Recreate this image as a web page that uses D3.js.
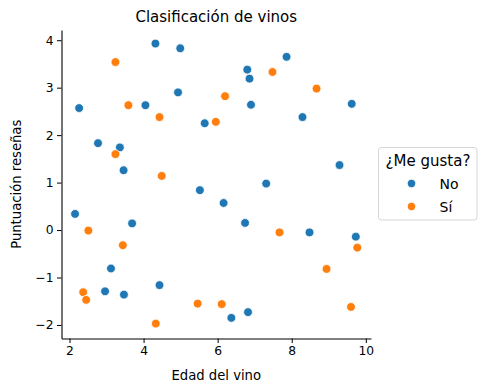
<!DOCTYPE html>
<html>
<head>
<meta charset="utf-8">
<script src="https://cdn.jsdelivr.net/npm/d3@7"></script>
<style>
  body { margin: 0; background: #fff; }
  svg { display: block; font-family: "DejaVu Sans", sans-serif; }
</style>
</head>
<body>
<svg id="chart" width="487" height="392"></svg>
<script>
const title = "Clasificación de vinos";
const xLabel = "Edad del vino";
const yLabel = "Puntuación reseñas";
const legendTitle = "¿Me gusta?";
const categories = ["No", "Sí"];
const colors = ["#1f77b4", "#ff7f0e"];
const xTicks = [2, 4, 6, 8, 10];
const yTicks = [-2, -1, 0, 1, 2, 3, 4];

// Serie "No"
const noX = [2.15, 2.26, 2.77, 3.36, 3.46, 4.32, 4.99, 4.93, 4.05, 5.65,
             7.86, 6.80, 6.86, 6.90, 8.29, 9.62, 9.29, 7.31,
             6.16, 6.74, 8.48, 9.73, 6.37, 6.82,
             5.52, 3.69, 3.12, 2.96, 3.47, 4.43];
const noY = [0.34, 2.57, 1.83, 1.74, 1.26, 3.93, 3.83, 2.90, 2.63, 2.25,
             3.65, 3.38, 3.19, 2.64, 2.38, 2.66, 1.37, 0.98,
             0.57, 0.15, -0.05, -0.14, -1.85, -1.73,
             0.84, 0.14, -0.81, -1.29, -1.36, -1.16];
// Serie "Sí"
const siX = [3.24, 3.59, 4.43, 3.24, 4.49, 5.95, 6.20, 7.48, 8.67,
             7.67, 9.77, 8.94, 6.11, 9.60,
             2.51, 3.44, 2.37, 2.45, 4.33, 5.46];
const siY = [3.54, 2.63, 2.38, 1.60, 1.14, 2.28, 2.82, 3.33, 2.98,
             -0.05, -0.37, -0.82, -1.56, -1.62,
             -0.01, -0.32, -1.31, -1.47, -1.97, -1.55];

const seriesX = [noX, siX];
const seriesY = [noY, siY];

const svg = d3.select("#chart");
const L = 61.5, R = 371, T = 30, B = 338.5;

const x = d3.scaleLinear().domain([1.784, 10.14]).range([L, R]);
const y = d3.scaleLinear().domain([-2.285, 4.215]).range([B, T]);

// Axes
const xAxis = svg.append("g")
  .attr("transform", `translate(0,${B})`)
  .call(d3.axisBottom(x).tickValues(xTicks).tickSize(4.5).tickPadding(3.5).tickSizeOuter(0));
const yAxis = svg.append("g")
  .attr("transform", `translate(${L},0)`)
  .call(d3.axisLeft(y).tickValues(yTicks).tickSize(4.5).tickPadding(3.5).tickSizeOuter(0)
        .tickFormat(d => d < 0 ? "\u2212" + Math.abs(d) : d));

[xAxis, yAxis].forEach(g => {
  g.selectAll(".domain").attr("stroke", "#000").attr("stroke-width", 1.1);
  g.selectAll(".tick line").attr("stroke", "#000").attr("stroke-width", 1);
  g.selectAll(".tick text").attr("fill", "#000")
    .style("font-family", "DejaVu Sans").style("font-size", "12.3px");
});

// Points
categories.forEach((c, i) => {
  const pts = seriesX[i].map((v, j) => [v, seriesY[i][j]]);
  svg.append("g").selectAll("circle").data(pts).join("circle")
    .attr("cx", d => x(d[0]))
    .attr("cy", d => y(d[1]))
    .attr("r", 4.4)
    .attr("fill", colors[i])
    .attr("stroke", "#fff")
    .attr("stroke-width", 0.8);
});

// Title
svg.append("text")
  .attr("x", (L + R) / 2).attr("y", 21.5)
  .attr("text-anchor", "middle")
  .style("font-size", "15px")
  .text(title);

// Axis labels
svg.append("text")
  .attr("x", (L + R) / 2).attr("y", 380)
  .attr("text-anchor", "middle")
  .style("font-size", "13.2px")
  .text(xLabel);

svg.append("text")
  .attr("transform", `translate(21,${(T + B) / 2}) rotate(-90)`)
  .attr("text-anchor", "middle")
  .style("font-size", "13.2px")
  .text(yLabel);

// Legend
const lg = svg.append("g").attr("transform", "translate(378.5,147.5)");
lg.append("rect")
  .attr("width", 98.5).attr("height", 72.5)
  .attr("rx", 3)
  .attr("fill", "#fff").attr("fill-opacity", 0.8)
  .attr("stroke", "#d6d6d6").attr("stroke-width", 1);
lg.append("text")
  .attr("x", 49.5).attr("y", 18.5)
  .attr("text-anchor", "middle")
  .style("font-size", "15px")
  .text(legendTitle);
categories.forEach((c, i) => {
  lg.append("circle")
    .attr("cx", 33).attr("cy", 36 + i * 23)
    .attr("r", 4.2)
    .attr("fill", colors[i])
    .attr("stroke", "#fff").attr("stroke-width", 0.8);
  lg.append("text")
    .attr("x", 61).attr("y", 41 + i * 23)
    .style("font-size", "14px")
    .text(c);
});
</script>
</body>
</html>
